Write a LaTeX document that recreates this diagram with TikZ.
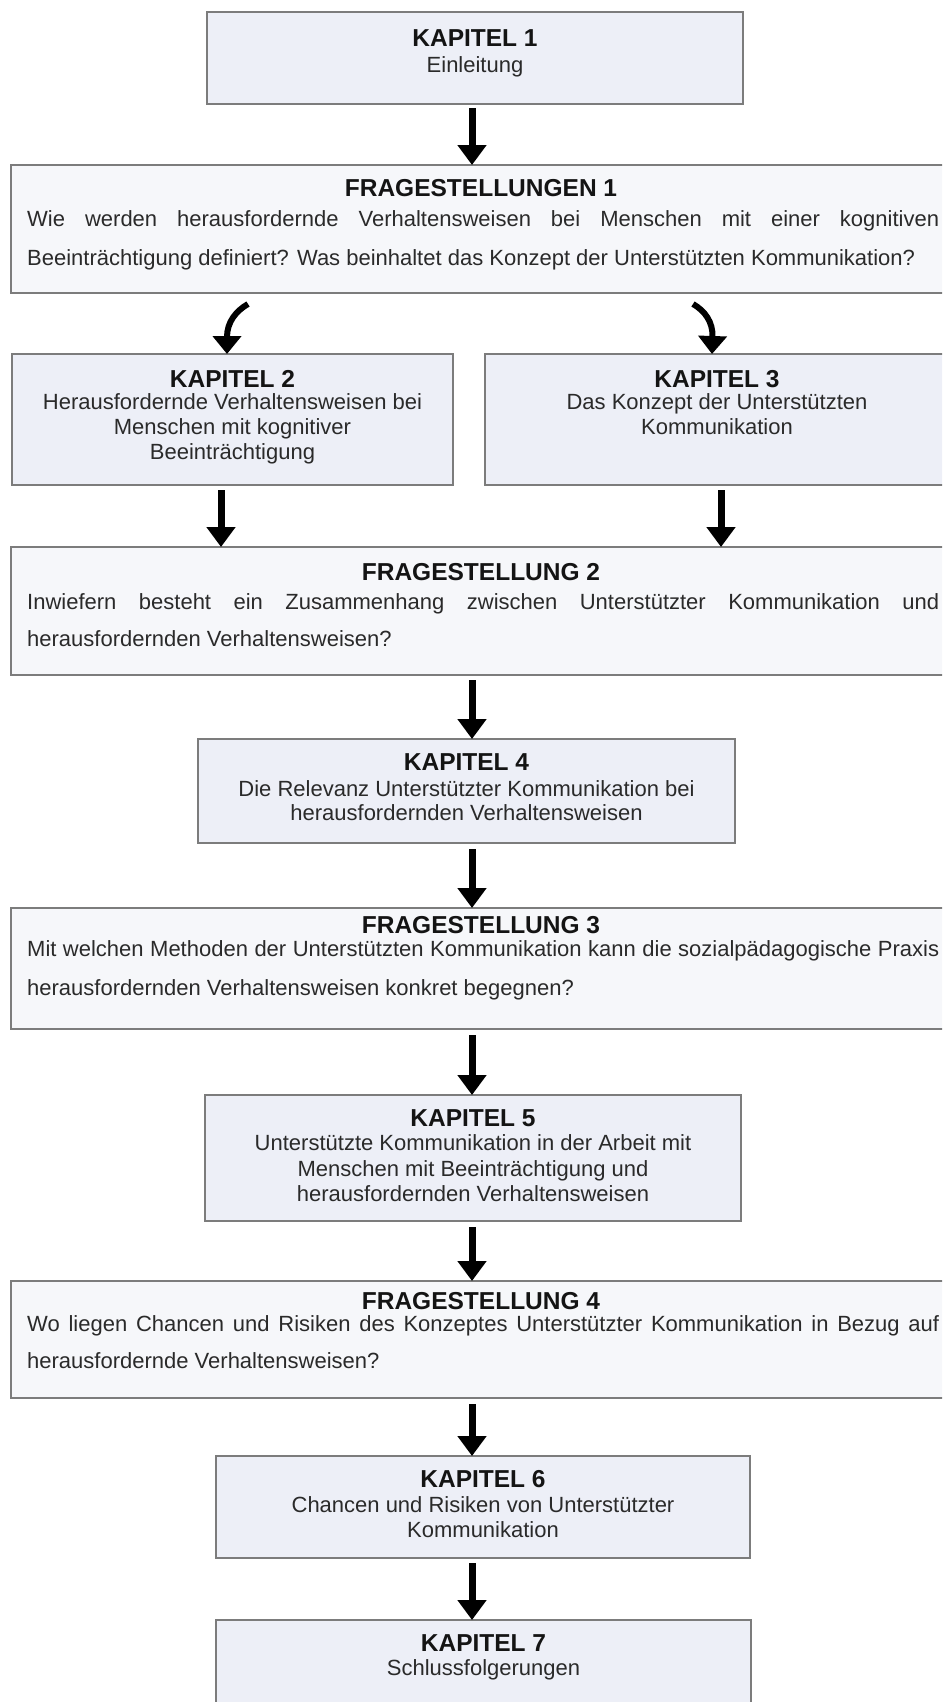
\documentclass[tikz,border=0pt]{standalone}
\usepackage{fontspec}
\setmainfont{Liberation Sans}
\usetikzlibrary{arrows.meta,calc}

\definecolor{kfill}{HTML}{EDEFF7}
\definecolor{ffill}{HTML}{F6F7FA}
\definecolor{edge}{HTML}{7C7C7C}
\definecolor{ink}{HTML}{2A2A2A}

\tikzset{
  box/.style={draw=edge, line width=1.6pt, inner sep=0pt, outer sep=0pt, anchor=north west},
  kbox/.style={box, fill=kfill},
  fbox/.style={box, fill=ffill},
  ttl/.style={anchor=base, inner sep=0pt, font=\fontsize{24.5}{28}\selectfont\bfseries, text=black!92},
  txt/.style={anchor=base, inner sep=0pt, font=\fontsize{22}{25}\selectfont, text=ink},
  ftxt/.style={txt, anchor=base west},
  flow/.style={line width=7pt, black, -{Triangle[width=28pt,length=20pt]}},
  curvedflow/.style={line width=6pt, black, -{Triangle[width=28pt,length=18pt]}},
}

\begin{document}
\begin{tikzpicture}[x=1pt,y=-1pt]
\useasboundingbox (0,0) rectangle (942,1702);
\clip (0,0) rectangle (942,1702);

% columns of the arrows
\coordinate (ax) at (472,0);
\coordinate (lx) at (221,0);
\coordinate (rx) at (721,0);
\coordinate (lt) at (227,0);
\coordinate (rt) at (712,0);

% ---------- boxes ----------
\node[kbox, minimum width=536pt, minimum height=92pt]  (k1) at (207,12) {};
\node[fbox, minimum width=940pt, minimum height=128pt] (f1) at (11,165) {};
\node[kbox, minimum width=441pt, minimum height=131pt] (k2) at (12,354) {};
\node[kbox, minimum width=464pt, minimum height=131pt] (k3) at (485,354) {};
\node[fbox, minimum width=940pt, minimum height=128pt] (f2) at (11,547) {};
\node[kbox, minimum width=537pt, minimum height=104pt] (k4) at (198,739) {};
\node[fbox, minimum width=940pt, minimum height=121pt] (f3) at (11,908) {};
\node[kbox, minimum width=536pt, minimum height=126pt] (k5) at (205,1095) {};
\node[fbox, minimum width=940pt, minimum height=117pt] (f4) at (11,1281) {};
\node[kbox, minimum width=534pt, minimum height=102pt] (k6) at (216,1456) {};
\node[kbox, minimum width=535pt, minimum height=110pt] (k7) at (216,1620) {};

% ---------- texts ----------
\node[ttl] (k1t) at ($(k1.north)+(0,35)$) {KAPITEL 1};
\node[txt] (k1a) at ($(k1.north)+(0,61)$) {Einleitung};

\node[ttl] (f1t) at ($(f1.north)+(0,31)$) {FRAGESTELLUNGEN 1};
\node[ftxt] (f1a) at ($(f1.north west)+(16,61)$) {\makebox[912pt][s]{Wie werden herausfordernde Verhaltensweisen bei Menschen mit einer kognitiven}};
\node[ftxt] (f1b) at ($(f1.north west)+(16,100)$) {Beeinträchtigung definiert? Was beinhaltet das Konzept der Unterstützten Kommunikation?};

\node[ttl] (k2t) at ($(k2.north)+(0,33)$) {KAPITEL 2};
\node[txt] (k2a) at ($(k2.north)+(0,55)$) {Herausfordernde Verhaltensweisen bei};
\node[txt] (k2b) at ($(k2.north)+(0,80)$) {Menschen mit kognitiver};
\node[txt] (k2c) at ($(k2.north)+(0,105)$) {Beeinträchtigung};

\node[ttl] (k3t) at ($(k3.north)+(0,33)$) {KAPITEL 3};
\node[txt] (k3a) at ($(k3.north)+(0,55)$) {Das Konzept der Unterstützten};
\node[txt] (k3b) at ($(k3.north)+(0,80)$) {Kommunikation};

\node[ttl] (f2t) at ($(f2.north)+(0,33)$) {FRAGESTELLUNG 2};
\node[ftxt] (f2a) at ($(f2.north west)+(16,62)$) {\makebox[912pt][s]{Inwiefern besteht ein Zusammenhang zwischen Unterstützter Kommunikation und}};
\node[ftxt] (f2b) at ($(f2.north west)+(16,99)$) {herausfordernden Verhaltensweisen?};

\node[ttl] (k4t) at ($(k4.north)+(0,31)$) {KAPITEL 4};
\node[txt] (k4a) at ($(k4.north)+(0,57)$) {Die Relevanz Unterstützter Kommunikation bei};
\node[txt] (k4b) at ($(k4.north)+(0,81)$) {herausfordernden Verhaltensweisen};

\node[ttl] (f3t) at ($(f3.north)+(0,25)$) {FRAGESTELLUNG 3};
\node[ftxt] (f3a) at ($(f3.north west)+(16,48)$) {\makebox[912pt][s]{Mit welchen Methoden der Unterstützten Kommunikation kann die sozialpädagogische Praxis}};
\node[ftxt] (f3b) at ($(f3.north west)+(16,87)$) {herausfordernden Verhaltensweisen konkret begegnen?};

\node[ttl] (k5t) at ($(k5.north)+(0,31)$) {KAPITEL 5};
\node[txt] (k5a) at ($(k5.north)+(0,55)$) {Unterstützte Kommunikation in der Arbeit mit};
\node[txt] (k5b) at ($(k5.north)+(0,81)$) {Menschen mit Beeinträchtigung und};
\node[txt] (k5c) at ($(k5.north)+(0,106)$) {herausfordernden Verhaltensweisen};

\node[ttl] (f4t) at ($(f4.north)+(0,28)$) {FRAGESTELLUNG 4};
\node[ftxt] (f4a) at ($(f4.north west)+(16,50)$) {\makebox[912pt][s]{Wo liegen Chancen und Risiken des Konzeptes Unterstützter Kommunikation in Bezug auf}};
\node[ftxt] (f4b) at ($(f4.north west)+(16,87)$) {herausfordernde Verhaltensweisen?};

\node[ttl] (k6t) at ($(k6.north)+(0,31)$) {KAPITEL 6};
\node[txt] (k6a) at ($(k6.north)+(0,56)$) {Chancen und Risiken von Unterstützter};
\node[txt] (k6b) at ($(k6.north)+(0,81)$) {Kommunikation};

\node[ttl] (k7t) at ($(k7.north)+(0,31)$) {KAPITEL 7};
\node[txt] (k7a) at ($(k7.north)+(0,55)$) {Schlussfolgerungen};

% ---------- connectors ----------
\draw[flow] ($(k1.south -| ax)+(0,4)$) -- (f1.north -| ax);

\coordinate (lb) at (248,304);
\coordinate (rb) at (693,304);
\draw[curvedflow] (lb) .. controls (236,311) and (227,322) .. (k2.north -| lt);
\draw[curvedflow] (rb) .. controls (705,311) and (713,322) .. (k3.north -| rt);

\draw[flow] ($(k2.south -| lx)+(0,5)$) -- (f2.north -| lx);
\draw[flow] ($(k3.south -| rx)+(0,5)$) -- (f2.north -| rx);
\draw[flow] ($(f2.south -| ax)+(0,5)$) -- (k4.north -| ax);
\draw[flow] ($(k4.south -| ax)+(0,6)$) -- (f3.north -| ax);
\draw[flow] ($(f3.south -| ax)+(0,6)$) -- (k5.north -| ax);
\draw[flow] ($(k5.south -| ax)+(0,6)$) -- (f4.north -| ax);
\draw[flow] ($(f4.south -| ax)+(0,6)$) -- (k6.north -| ax);
\draw[flow] ($(k6.south -| ax)+(0,5)$) -- (k7.north -| ax);
\end{tikzpicture}
\end{document}
